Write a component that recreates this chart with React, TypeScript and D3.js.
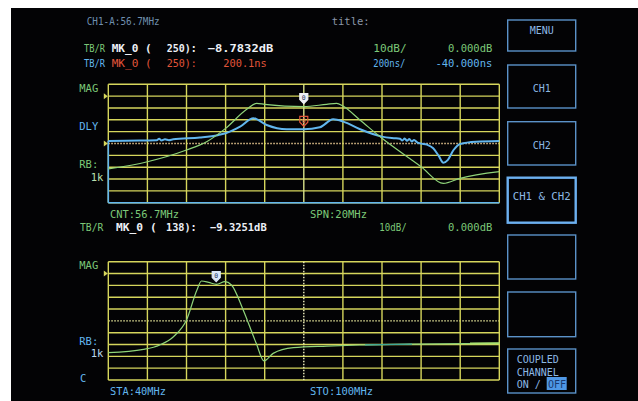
import React from 'react'
import * as d3 from 'd3'

// top panel: CNT 56.7MHz, SPN 20MHz
const topMagFreq = [46.7, 48.7, 50.7, 51.73, 52.7, 53.78, 54.29, 54.7, 56.7, 57.87, 58.38, 58.7, 59.57, 60.7, 62.7, 63.84, 64.69, 66.7]
const topMagDb = [-61.5, -55.4, -45.5, -38.5, -27.2, -11.1, -6.1, -6.9, -8.8, -6.9, -6.1, -8.3, -20.1, -35.6, -59.6, -73.7, -69.4, -63.8]

const topDlyFreq = [46.7, 48.3, 49.18, 49.3, 49.42, 49.6, 49.8, 50.02, 51.38, 52.3, 52.7, 53.44, 54.12, 54.8, 55.82, 56.7, 57.52, 58.2, 58.72, 59.58, 60.7, 61.3, 61.62, 61.74, 61.86, 61.98, 62.1, 62.22, 62.34, 62.5, 62.64, 63.0, 63.32, 63.6, 63.84, 64.06, 64.36, 64.7, 65.5, 66.7]
const topDlyNs = [2, 10, 14, 40, 10, 30, 15, 30, 60, 100, 132, 244, 386, 272, 200, 200, 234, 368, 330, 200, 76, 50, 40, 10, 45, 5, 35, -5, 20, -20, -38, -60, -120, -250, -364, -320, -150, -48, -10, 2]

// bottom panel: STA 40MHz, STO 100MHz
const botMagFreq = [40, 45.4, 47.9, 50.0, 52.0, 53.6, 54.3, 55.4, 56.6, 57.9, 58.9, 60.7, 62.7, 63.9, 65.3, 68.4, 73.5, 78.6, 79.4, 86.6, 95.5, 100]
const botMagDb = [-66.9, -64.1, -60.4, -53.4, -39.3, -13.9, -6.3, -7.5, -9.2, -6.9, -9.7, -30.8, -59, -73.9, -67.5, -62.7, -61.3, -60.4, -60.3, -59.7, -59.2, -59]
const botTealFrom = 79.4
const botTealTo = 86.6
const botBrightFrom = 95.5

const topMarkerFreq = 56.7
const topMarkerDb = -8.7832
const topMarkerNs = 200.1
const botMarkerFreq = 56.56
const botMarkerDb = -9.3251

const menuLabels = ['MENU', 'CH1', 'CH2', 'CH1 & CH2', '', '']

const FONT = '"DejaVu Sans Mono", monospace'
const GRID = '#d6d65c'
const GREEN = '#8fd47a'
const TXTGREEN = '#7cc878'
const BLUE = '#62b6ee'
const ORANGE = '#e2553a'
const WHITE = '#eef0f6'
const BTN = '#5b92c8'

const L = 108.3, R = 499.3
const T1 = 84.3, B1 = 202.7
const T2 = 261.7, B2 = 380

function Txt({ x, y, fill, children, len, anchor = 'start', size = 10.5, weight }: any) {
  return (
    <text x={x} y={y} fill={fill} fontFamily={FONT} fontSize={size} textAnchor={anchor}
      fontWeight={weight}
      textLength={len} lengthAdjust={len ? 'spacingAndGlyphs' : undefined}>{children}</text>
  )
}

function Grid({ top, bottom, dottedRow, dottedCol, centerColor, rowColor }: any) {
  const xs = d3.range(11).map(i => L + (R - L) * i / 10)
  const ys = d3.range(11).map(i => top + (bottom - top) * i / 10)
  return (
    <g>
      {ys.map((y, i) => (
        <line key={'h' + i} x1={L} x2={R} y1={y} y2={y}
          stroke={i === 5 && dottedRow ? rowColor : GRID}
          strokeWidth={i === 5 && dottedRow ? 1.3 : 1.4}
          strokeDasharray={i === 5 && dottedRow ? '1.5 1.5' : undefined} />
      ))}
      {xs.map((x, i) => (
        <line key={'v' + i} x1={x} x2={x} y1={top} y2={bottom}
          stroke={i === 5 ? centerColor : GRID}
          strokeWidth={1.4}
          strokeDasharray={i === 5 && dottedCol ? '1.5 1.5' : undefined} />
      ))}
    </g>
  )
}

function Marker({ x, y, fill, stroke, label }: any) {
  const tip = y - 3
  const d = `M${x - 4},${tip - 10} h8 v6 l-4,4 l-4,-4 z`
  return (
    <g>
      <path d={d} fill={fill} stroke={stroke} strokeWidth={1.2} />
      <text x={x} y={tip - 3.6} fontFamily={FONT} fontSize={6.5} textAnchor="middle"
        fill={label}>0</text>
    </g>
  )
}

function Tri({ y }: { y: number }) {
  return <path d={`M${L - 4.5},${y - 3} L${L - 0.5},${y} L${L - 4.5},${y + 3} Z`} fill={GRID} />
}

export default function App() {
  const xTop = d3.scaleLinear().domain([46.7, 66.7]).range([L, R])
  const xBot = d3.scaleLinear().domain([40, 100]).range([L, R])
  const yTopMag = d3.scaleLinear().domain([10, -90]).range([T1, B1])
  const yTopDly = d3.scaleLinear().domain([960, -1040]).range([T1, B1])
  const yBotMag = d3.scaleLinear().domain([10, -90]).range([T2, B2])

  const magTop = topMagFreq.map((f, i) => [xTop(f), yTopMag(topMagDb[i])] as [number, number])
  const dlyTop = topDlyFreq.map((f, i) => [xTop(f), yTopDly(topDlyNs[i])] as [number, number])
  const magBot = botMagFreq.map((f, i) => [xBot(f), yBotMag(botMagDb[i])] as [number, number])
  const line = d3.line().curve(d3.curveMonotoneX)
  const teal = magBot.filter((_, i) => botMagFreq[i] >= botTealFrom && botMagFreq[i] <= botTealTo)
  const bright = magBot.filter((_, i) => botMagFreq[i] >= botBrightFrom)

  const btnTops = [20, 65, 121.7, 177.7, 235, 292]
  const btnBottoms = [51, 108, 165, 222.7, 279, 336.7]
  const btnTextY = [33.5, 91.5, 148.5, 200, 0, 0]

  return (
    <div style={{ position: 'absolute', left: 0, top: 0 }}>
      <svg width={638} height={401} style={{ display: 'block' }}>
        <rect x={0} y={0} width={638} height={401} fill="#ffffff" />
        <rect x={11} y={8} width={627} height={393} fill="#030305" />

        {/* header */}
        <Txt x={86.7} y={24.5} fill="#6f8fae" len={73}>CH1-A:56.7MHz</Txt>
        <Txt x={331.7} y={24.5} fill="#8a96a8">title:</Txt>

        <Txt x={84} y={52} fill={TXTGREEN} len={21}>TB/R</Txt>
        <Txt x={111.7} y={52} fill={WHITE} len={40} weight="bold">MK_0 (</Txt>
        <Txt x={166.7} y={52} fill={WHITE} len={30} weight="bold">250):</Txt>
        <Txt x={207.7} y={52} fill={WHITE} len={65.6} weight="bold">{d3.format('.4f')(topMarkerDb)}dB</Txt>
        <Txt x={373.3} y={52} fill={TXTGREEN} len={33.4}>10dB/</Txt>
        <Txt x={492.3} y={52} fill={TXTGREEN} anchor="end">0.000dB</Txt>

        <Txt x={84} y={67} fill={BLUE} len={21}>TB/R</Txt>
        <Txt x={111.7} y={67} fill={ORANGE} len={40}>MK_0 (</Txt>
        <Txt x={166.7} y={67} fill={ORANGE} len={30}>250):</Txt>
        <Txt x={223.3} y={67} fill={ORANGE} len={43.4}>{topMarkerNs}ns</Txt>
        <Txt x={373.3} y={67} fill={BLUE} len={32}>200ns/</Txt>
        <Txt x={492.3} y={67} fill={BLUE} anchor="end">-40.000ns</Txt>

        {/* top panel */}
        <Txt x={79.3} y={92} fill={TXTGREEN}>MAG</Txt>
        <Txt x={79.3} y={130} fill={BLUE}>DLY</Txt>
        <Txt x={79.3} y={168} fill={TXTGREEN}>RB:</Txt>
        <Txt x={103.3} y={180.5} fill="#b8e0b0" anchor="end">1k</Txt>
        <Grid top={T1} bottom={B1} dottedRow centerColor="#d8e08a" rowColor="#e8c890" />
        <line x1={L} x2={L} y1={yTopDly(topDlyNs[0])} y2={B1} stroke={BLUE} strokeWidth={1.6} />
        <line x1={L} x2={R} y1={B1} y2={B1} stroke={BLUE} strokeWidth={1.6} />
        <Tri y={T1 + (B1 - T1) / 10} />
        <Tri y={T1 + (B1 - T1) / 2} />
        <path d={line(dlyTop) || ''} fill="none" stroke={BLUE} strokeWidth={2} />
        <path d={line(magTop) || ''} fill="none" stroke={GREEN} strokeWidth={1.2} />
        <Marker x={xTop(topMarkerFreq)} y={yTopMag(topMarkerDb)} fill={WHITE} stroke={WHITE} label="#2a3a60" />
        <Marker x={xTop(topMarkerFreq)} y={yTopDly(topMarkerNs)} fill="none" stroke={ORANGE} label={ORANGE} />
        <Txt x={110} y={218} fill={TXTGREEN} len={69}>CNT:56.7MHz</Txt>
        <Txt x={310} y={218} fill={TXTGREEN} len={57}>SPN:20MHz</Txt>

        {/* bottom header */}
        <Txt x={80} y={230.5} fill={TXTGREEN} len={23.3}>TB/R</Txt>
        <Txt x={116} y={230.5} fill={WHITE} len={40.7} weight="bold">MK_0 (</Txt>
        <Txt x={166} y={230.5} fill={WHITE} len={30.7} weight="bold">138):</Txt>
        <Txt x={210} y={230.5} fill={WHITE} len={56.7} weight="bold">{d3.format('.4f')(botMarkerDb)}dB</Txt>
        <Txt x={379.3} y={230.5} fill={TXTGREEN} len={27.4}>10dB/</Txt>
        <Txt x={492.3} y={230.5} fill={TXTGREEN} anchor="end">0.000dB</Txt>

        {/* bottom panel */}
        <Txt x={79.3} y={269} fill={TXTGREEN}>MAG</Txt>
        <Txt x={79.3} y={344.5} fill={BLUE}>RB:</Txt>
        <Txt x={103.3} y={357} fill="#b8d8f0" anchor="end">1k</Txt>
        <Txt x={80} y={381.5} fill={BLUE}>C</Txt>
        <Grid top={T2} bottom={B2} dottedRow dottedCol centerColor="#f0f0c0" rowColor="#f0f0a0" />
        <Tri y={T2 + (B2 - T2) / 10} />
        <path d={line(magBot) || ''} fill="none" stroke={GREEN} strokeWidth={1.2} />
        <path d={line(teal) || ''} fill="none" stroke="#3fa898" strokeWidth={1.4} />
        <path d={line(bright) || ''} fill="none" stroke="#a8e070" strokeWidth={2} />
        <Marker x={xBot(botMarkerFreq)} y={yBotMag(botMarkerDb)} fill="#dce8f8" stroke="#dce8f8" label="#2a3a60" />
        <Txt x={110} y={394.5} fill={BLUE} len={56}>STA:40MHz</Txt>
        <Txt x={310} y={394.5} fill={BLUE} len={63}>STO:100MHz</Txt>

        {/* right-hand soft keys */}
        {menuLabels.map((lab, i) => (
          <g key={i}>
            <rect x={507.7} y={btnTops[i]} width={68} height={btnBottoms[i] - btnTops[i]}
              fill="none" stroke={i === 3 ? '#6cb0f0' : BTN} strokeWidth={i === 3 ? 2.4 : 1.4} />
            {lab && (
              <Txt x={541.7} y={btnTextY[i]} fill="#8cb8e4" anchor="middle" size={10}
                len={i === 3 ? 58 : undefined}>{lab}</Txt>
            )}
          </g>
        ))}
        <rect x={507.7} y={349} width={68} height={44} fill="none" stroke={BTN} strokeWidth={1.4} />
        <Txt x={516.7} y={362.5} fill="#8cb8e4" size={10}>COUPLED</Txt>
        <Txt x={516.7} y={375.5} fill="#8cb8e4" size={10}>CHANNEL</Txt>
        <Txt x={516.7} y={388} fill="#8cb8e4" size={10}>ON /</Txt>
        <rect x={546.7} y={377} width={20} height={13} fill="#4f98e6" />
        <Txt x={548} y={388} fill="#1a3a70" size={10}>OFF</Txt>
      </svg>
    </div>
  )
}
